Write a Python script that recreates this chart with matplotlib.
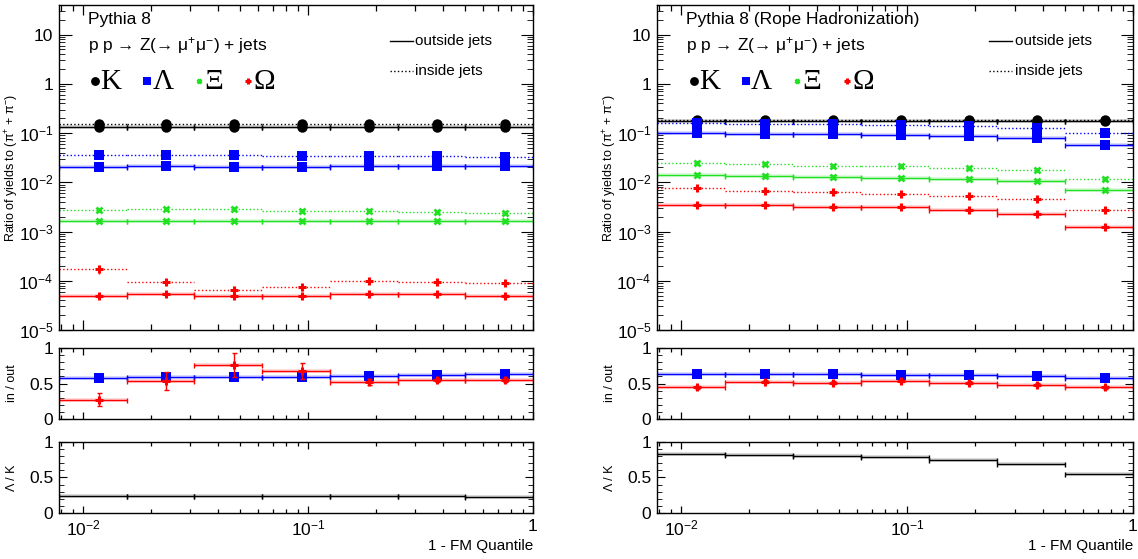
import numpy as np
import matplotlib
matplotlib.use('Agg')
import matplotlib.pyplot as plt
from matplotlib.ticker import FuncFormatter, LogLocator, MultipleLocator, FixedLocator, NullFormatter

plt.rcParams['font.family'] = ['Liberation Sans', 'DejaVu Sans']
plt.rcParams['mathtext.fontset'] = 'custom'
plt.rcParams['mathtext.rm'] = 'Liberation Sans'
plt.rcParams['mathtext.it'] = 'Liberation Sans:italic'
plt.rcParams['mathtext.bf'] = 'Liberation Sans:bold'

# bins in 1 - FM quantile
bin_edges = np.array([1/128, 1/64, 1/32, 1/16, 1/8, 1/4, 1/2, 1.0])

# standard Pythia 8, ratios to (pi+ + pi-)
k_out_std = [0.133, 0.134, 0.133, 0.133, 0.133, 0.133, 0.133]
k_in_std = [0.150, 0.152, 0.151, 0.151, 0.150, 0.150, 0.151]
lam_out_std = [0.0209, 0.0216, 0.0207, 0.0207, 0.0216, 0.0216, 0.0213]
lam_in_std = [0.0362, 0.0362, 0.0362, 0.0346, 0.0346, 0.0346, 0.0330]
xi_out_std = [0.00165, 0.00163, 0.00163, 0.00165, 0.00165, 0.00163, 0.00161]
xi_in_std = [0.00272, 0.00289, 0.00285, 0.00267, 0.00264, 0.00255, 0.00237]
om_out_std = [4.8e-5, 5.35e-5, 4.93e-5, 5.0e-5, 5.35e-5, 5.35e-5, 4.86e-5]
om_in_std = [1.72e-4, 9.6e-5, 6.4e-5, 7.3e-5, 1.01e-4, 9.5e-5, 8.9e-5]
om_in_err_std = [3.5e-5, 1.4e-5, 1.3e-5, 1.0e-5, 8e-6, 6e-6, 5e-6]

# ratio panels, standard
lam_ratio_std = [0.573, 0.587, 0.587, 0.596, 0.606, 0.620, 0.634]
om_ratio_std = [0.272, 0.535, 0.760, 0.676, 0.521, 0.545, 0.545]
om_ratio_err_std = [0.09, 0.13, 0.17, 0.11, 0.04, 0.03, 0.03]
lam_k_std = [0.240, 0.234, 0.234, 0.233, 0.233, 0.233, 0.232]

# rope hadronization
k_out_rope = [0.180, 0.180, 0.180, 0.180, 0.180, 0.180, 0.180]
k_in_rope = [0.188, 0.188, 0.188, 0.187, 0.187, 0.186, 0.185]
lam_out_rope = [0.100, 0.097, 0.0955, 0.0923, 0.0869, 0.0776, 0.0570]
lam_in_rope = [0.160, 0.152, 0.150, 0.146, 0.139, 0.127, 0.101]
xi_out_rope = [0.0140, 0.0135, 0.0131, 0.0125, 0.0118, 0.0104, 0.0069]
xi_in_rope = [0.0245, 0.0234, 0.0219, 0.0213, 0.0195, 0.0174, 0.0119]
om_out_rope = [0.00349, 0.00349, 0.00322, 0.00313, 0.00276, 0.00226, 0.00126]
om_in_rope = [0.00783, 0.00681, 0.00632, 0.00575, 0.00532, 0.00456, 0.00280]

lam_ratio_rope = [0.634, 0.634, 0.634, 0.620, 0.620, 0.606, 0.577]
om_ratio_rope = [0.446, 0.526, 0.512, 0.535, 0.512, 0.484, 0.446]
om_ratio_err_rope = [0.02, 0.02, 0.02, 0.02, 0.02, 0.02, 0.02]
lam_k_rope = [0.836, 0.818, 0.804, 0.790, 0.752, 0.692, 0.556]

titles = ['Pythia 8', 'Pythia 8 (Rope Hadronization)']
species = ['K', 'Λ', 'Ξ', 'Ω']

col_k, col_lam, col_xi, col_om = 'black', '#0000ff', '#22e022', '#ff0000'

lo = bin_edges[:-1]
hi = bin_edges[1:]
centers = (lo + hi) / 2

# marker, size, edge width, colour
markers = [('o', 7.5, 0, col_k), ('s', 7, 0, col_lam), ('x', 4, 2, col_xi), ('+', 5.5, 2.2, col_om)]


def draw_hist(ax, vals, color, ls='-', mk=None, yerr=None, band=True):
    vals = np.asarray(vals)
    if band:
        ax.hlines(vals, lo, hi, colors=color, lw=2.6, alpha=0.18)
    eb = ax.errorbar(centers, vals, xerr=[centers - lo, hi - centers], yerr=yerr,
                     fmt='none', ecolor=color, elinewidth=1, capsize=1.8, capthick=1)
    for lc in eb[2]:
        lc.set_linestyle(ls)
    if ls != '-':
        for cl in eb[1]:
            cl.set_visible(False)
    if mk is not None:
        m, ms, mew, _ = mk
        ax.plot(centers, vals, ls='none', marker=m, color=color, ms=ms, markeredgewidth=mew)


def log_fmt(v, _):
    e = int(round(np.log10(v)))
    if e == 0:
        return '1'
    if e == 1:
        return '10'
    return r'$\mathregular{10^{%d}}$' % e


def style_x(ax, major_len, minor_len, labels):
    ax.set_xscale('log')
    ax.set_xlim(bin_edges[0], bin_edges[-1])
    ax.xaxis.set_major_locator(FixedLocator([0.01, 0.1, 1.0]))
    ax.xaxis.set_minor_locator(LogLocator(base=10, subs=np.arange(2, 10), numticks=20))
    ax.xaxis.set_minor_formatter(NullFormatter())
    if labels:
        ax.xaxis.set_major_formatter(FuncFormatter(log_fmt))
    else:
        ax.xaxis.set_major_formatter(NullFormatter())
    ax.tick_params(axis='x', which='major', length=major_len, width=0.9)
    ax.tick_params(axis='x', which='minor', length=minor_len, width=0.9)
    ax.tick_params(axis='both', which='both', direction='in', top=True, right=True,
                   labelsize=12.5, pad=4)
    for s in ax.spines.values():
        s.set_linewidth(1.0)


def set_ylab(ax, text):
    ax.set_ylabel(text, fontsize=9, va='center')
    ax.yaxis.set_label_coords(-0.099, 0.5)


fig = plt.figure(figsize=(11.38, 5.59), dpi=100)

panels = [
    (0.0518, 0.4165,
     [(k_out_std, k_in_std), (lam_out_std, lam_in_std), (xi_out_std, xi_in_std), (om_out_std, om_in_std)],
     om_in_err_std, lam_ratio_std, om_ratio_std, om_ratio_err_std, lam_k_std),
    (0.5773, 0.4183,
     [(k_out_rope, k_in_rope), (lam_out_rope, lam_in_rope), (xi_out_rope, xi_in_rope), (om_out_rope, om_in_rope)],
     None, lam_ratio_rope, om_ratio_rope, om_ratio_err_rope, lam_k_rope),
]

for p, (x0, w, series, om_err, lam_r, om_r, om_r_err, lamk) in enumerate(panels):
    ax = fig.add_axes([x0, 0.4097, w, 0.5814])
    axr = fig.add_axes([x0, 0.2504, w, 0.127])
    axk = fig.add_axes([x0, 0.0823, w, 0.127])

    # top: yields
    for i, ((out_v, in_v), mk) in enumerate(zip(series, markers)):
        yerr = om_err if (i == 3 and om_err is not None) else None
        draw_hist(ax, out_v, mk[3], '-', mk)
        draw_hist(ax, in_v, mk[3], ':', mk, yerr=yerr, band=False)
    ax.set_yscale('log')
    ax.set_ylim(1e-5, 40)
    ax.yaxis.set_major_locator(LogLocator(base=10, numticks=20))
    ax.yaxis.set_minor_locator(LogLocator(base=10, subs=np.arange(2, 10), numticks=20))
    ax.yaxis.set_major_formatter(FuncFormatter(log_fmt))
    ax.yaxis.set_minor_formatter(NullFormatter())
    style_x(ax, 7, 4, False)
    ax.tick_params(axis='y', which='major', length=9)
    ax.tick_params(axis='y', which='minor', length=4.5)
    set_ylab(ax, 'Ratio of yields to (π$^{+}$ + π$^{-}$)')

    ax.text(0.062, 0.955, titles[p], transform=ax.transAxes, fontsize=12.5, va='center')
    ax.text(0.062, 0.875, 'p p → Z(→ μ$^{+}$μ$^{-}$) + jets', transform=ax.transAxes,
            fontsize=12.5, va='center')
    leg_x = [0.077, 0.186, 0.295, 0.399]
    for (m, ms, mew, c), lx, name in zip(markers, leg_x, species):
        ax.plot([lx], [0.765], transform=ax.transAxes, marker=m, color=c, ms=ms * 0.85,
                markeredgewidth=mew, clip_on=False)
        ax.text(lx + 0.011, 0.762, name, transform=ax.transAxes, fontsize=21,
                family=['Liberation Serif', 'DejaVu Serif'], va='center')
    ax.plot([0.698, 0.746], [0.889, 0.889], transform=ax.transAxes, color='black', lw=1)
    ax.text(0.752, 0.889, 'outside jets', transform=ax.transAxes, fontsize=11, va='center')
    ax.plot([0.698, 0.746], [0.797, 0.797], transform=ax.transAxes, color='black', lw=1, ls=':')
    ax.text(0.752, 0.797, 'inside jets', transform=ax.transAxes, fontsize=11, va='center')

    # middle: in / out
    draw_hist(axr, lam_r, col_lam, '-', markers[1])
    draw_hist(axr, om_r, col_om, '-', markers[3], yerr=om_r_err)
    axr.set_ylim(0, 1)
    axr.yaxis.set_major_locator(FixedLocator([0, 0.5, 1]))
    axr.yaxis.set_major_formatter(FuncFormatter(lambda v, _: '%g' % v))
    axr.yaxis.set_minor_locator(MultipleLocator(0.1))
    style_x(axr, 5, 3, False)
    axr.tick_params(axis='y', which='major', length=6)
    axr.tick_params(axis='y', which='minor', length=3.5)
    set_ylab(axr, 'in / out')

    # bottom: Lambda / K
    draw_hist(axk, lamk, 'black', '-', None)
    axk.set_ylim(0, 1)
    axk.yaxis.set_major_locator(FixedLocator([0, 0.5, 1]))
    axk.yaxis.set_major_formatter(FuncFormatter(lambda v, _: '%g' % v))
    axk.yaxis.set_minor_locator(MultipleLocator(0.1))
    style_x(axk, 5, 3, True)
    axk.tick_params(axis='y', which='major', length=6)
    axk.tick_params(axis='y', which='minor', length=3.5)
    set_ylab(axk, 'Λ / K')
    axk.set_xlabel('1 - FM Quantile', fontsize=11)
    axk.xaxis.set_label_coords(1.0, -0.36)
    axk.xaxis.label.set_horizontalalignment('right')

fig.savefig('out.png', dpi=100)
